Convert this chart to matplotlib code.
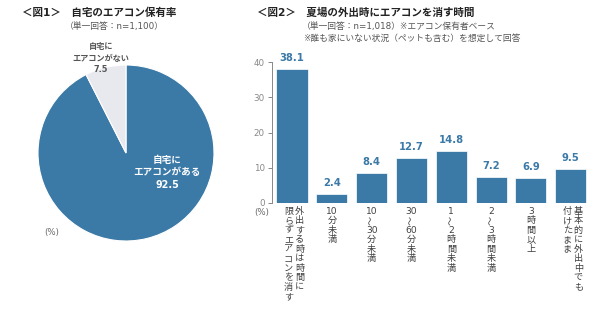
import matplotlib
matplotlib.use('Agg')
import matplotlib.pyplot as plt

plt.rcParams['font.family'] = ['DejaVu Sans', 'Noto Sans CJK JP']

# data
pie_labels = [['自宅に', 'エアコンがある'], ['自宅に', 'エアコンがない']]
pie_values = [92.5, 7.5]

bar_values = [38.1, 2.4, 8.4, 12.7, 14.8, 7.2, 6.9, 9.5]
# each category: list of columns (right to left), each column a list of cells
bar_labels = [
    [list('外出する時は時間に'), list('限らずエアコンを消す')],
    [['10', '分', '未', '満']],
    [['10', '～', '30', '分', '未', '満']],
    [['30', '～', '60', '分', '未', '満']],
    [['1', '～', '2', '時', '間', '未', '満']],
    [['2', '～', '3', '時', '間', '未', '満']],
    [['3', '時', '間', '以', '上']],
    [list('基本的に外出中でも'), list('付けたまま')],
]

blue = '#3b79a7'
grey = '#e8e9ee'
dark = '#404040'

W, H = 600, 319
fig = plt.figure(figsize=(6, 3.19), dpi=100)

# titles
fig.text(22 / W, 1 - 13 / H, '＜図1＞　自宅のエアコン保有率', fontsize=7.6,
         fontweight='bold', color='#222', va='center')
fig.text(65 / W, 1 - 26 / H, '（単一回答：n=1,100）', fontsize=6.3,
         color='#555', va='center')
fig.text(257 / W, 1 - 13 / H, '＜図2＞　夏場の外出時にエアコンを消す時間', fontsize=7.6,
         fontweight='bold', color='#222', va='center')
fig.text(302 / W, 1 - 26 / H, '（単一回答：n=1,018）※エアコン保有者ベース',
         fontsize=6.3, color='#555', va='center')
fig.text(303 / W, 1 - 38 / H, '※誰も家にいない状況（ペットも含む）を想定して回答',
         fontsize=6.3, color='#555', va='center')

# pie
cx, cy, r = 126, 153, 88
ax1 = fig.add_axes([(cx - r) / W, 1 - (cy + r) / H, 2 * r / W, 2 * r / H])
ax1.pie(pie_values, colors=[blue, grey], startangle=90, counterclock=False,
        wedgeprops=dict(edgecolor='white', linewidth=0.8))
ax1.set_xlim(-1, 1)
ax1.set_ylim(-1, 1)
ax1.set_aspect('auto')

# slice labels, one text per line
lines_in = pie_labels[0] + [str(pie_values[0])]
for k, t in enumerate(lines_in):
    fig.text(167 / W, 1 - (160 + 12.3 * k) / H, t, fontsize=6.9,
             fontweight='bold', color='white', ha='center', va='center')
lines_out = pie_labels[1] + [str(pie_values[1])]
for k, t in enumerate(lines_out):
    fig.text(101 / W, 1 - (47 + 11.5 * k) / H, t, fontsize=5.9,
             fontweight='bold', color='#555', ha='center', va='center')
fig.text(52 / W, 1 - 233 / H, '(%)', fontsize=6.2, color='#666',
         ha='center', va='center')

# bars
x0, y0, x1, y1 = 271.7, 202.7, 588.7, 62.3
ax2 = fig.add_axes([x0 / W, 1 - y0 / H, (x1 - x0) / W, (y0 - y1) / H])
xs = range(len(bar_values))
ax2.bar(xs, bar_values, width=0.78, color=blue, edgecolor='white', linewidth=0.5)
ax2.set_xlim(-0.51, 7.45)
ax2.set_ylim(0, 40)
ax2.set_yticks([0, 10, 20, 30, 40])
ax2.tick_params(axis='y', labelsize=6.3, labelcolor='#888', color='#888',
                length=3, width=0.7, pad=2)
ax2.set_xticks([])
for s in ['top', 'right', 'bottom']:
    ax2.spines[s].set_visible(False)
ax2.spines['left'].set_color('#888')
ax2.spines['left'].set_linewidth(0.7)

px = 72 / 100  # points per pixel
for i, v in enumerate(bar_values):
    ax2.annotate(f'{v}', (i, v), xytext=(0, 11 * px), textcoords='offset points',
                 ha='center', va='center', fontsize=7.2, fontweight='bold',
                 color=blue, annotation_clip=False)

fig.text(262 / W, 1 - 212 / H, '(%)', fontsize=6.2, color='#666',
         ha='center', va='center')

pitch = 9.5
for i, cols in enumerate(bar_labels):
    n = len(cols)
    for c, col in enumerate(cols):
        dx = 0 if n == 1 else (7.5 - 11 * c)
        for k, ch in enumerate(col):
            rot = 90 if ch == '～' else 0
            ax2.annotate(ch, (i, 0), xycoords=('data', 'axes fraction'),
                         xytext=(dx * px, -(8.5 + k * pitch) * px),
                         textcoords='offset points', ha='center', va='center',
                         fontsize=6.6, color=dark, rotation=rot,
                         annotation_clip=False)

fig.savefig('out.png', dpi=100, facecolor='white')
